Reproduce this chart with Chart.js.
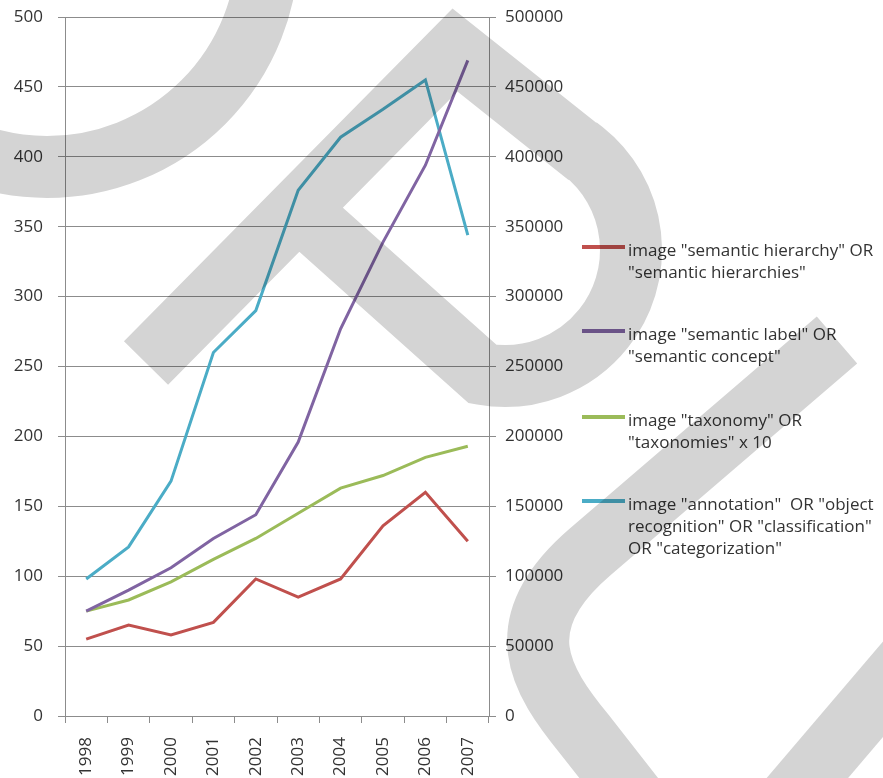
<!DOCTYPE html>
<html lang="en">
<head>
    <meta charset="UTF-8">
    <title>image search hits 1998-2007</title>
    <script src="https://cdn.jsdelivr.net/npm/chart.js@4.4.1/dist/chart.umd.min.js"></script>
    <style>
        *{margin:0; padding:0;}
        body{background:#fff;}
        #wrap{width:883px; height:778px; position:relative;}
    </style>
</head>
<body>
    <div id="wrap">
        <canvas id="lineChart" width="883" height="778"></canvas>
    </div>

    <script>
        const years = ['1998','1999','2000','2001','2002','2003','2004','2005','2006','2007']

        // left axis
        const hierarchy = [55, 65, 58, 67, 98, 85, 98, 136, 160, 125]
        const semLabel  = [75, 90, 106, 127, 144, 196, 277, 339, 394, 469]
        const taxonomy  = [75, 83, 96, 112, 127, 145, 163, 172, 185, 193]
        // right axis
        const annotation = [98000, 121000, 168000, 260000, 290000, 376000, 414000, 434000, 455000, 344000]

        const leftTicks  = [0, 50, 100, 150, 200, 250, 300, 350, 400, 450, 500]
        const rightTicks = [0, 50000, 100000, 150000, 200000, 250000, 300000, 350000, 400000, 450000, 500000]

        const legendText = [
            ['image "semantic hierarchy" OR', '"semantic hierarchies"'],
            ['image "semantic label" OR', '"semantic concept"'],
            ['image "taxonomy" OR', '"taxonomies" x 10'],
            ['image "annotation"  OR "object', 'recognition" OR "classification"', 'OR "categorization"']
        ]

        const colors = ['#c0504d', '#8064a2', '#9bbb59', '#4bacc6']
        const axisGray = '#8c8c8c'
        const tickFont = {family:'Open Sans', size:17}

        function series(i, data, axis){
            return {
                label: legendText[i].join(' '),
                data: data,
                yAxisID: axis,
                borderColor: colors[i],
                backgroundColor: colors[i],
                borderWidth: 3,
                pointRadius: 0,
                tension: 0
            }
        }

        // fixed axis sizes, no extra room for the end labels
        function fixWidth(w){
            return function(scale){
                scale.width = w
                scale.paddingTop = 0
                scale.paddingBottom = 0
            }
        }

        // legend drawn on the right, with wrapped labels
        const sideLegend = {
            id:'sideLegend',
            afterDraw(chart){
                const ctx = chart.ctx
                const rows = [247, 331, 417, 501]
                ctx.save()
                ctx.font = '17px "Open Sans"'
                ctx.textBaseline = 'middle'
                ctx.textAlign = 'left'
                chart.data.datasets.forEach(function(ds, i){
                    const y = rows[i]
                    ctx.strokeStyle = ds.borderColor
                    ctx.lineWidth = 4
                    ctx.beginPath()
                    ctx.moveTo(582, y)
                    ctx.lineTo(625, y)
                    ctx.stroke()
                    ctx.fillStyle = '#333'
                    legendText[i].forEach(function(line, k){
                        ctx.fillText(line, 628, y + 4 + k * 22)
                    })
                })
                ctx.restore()
            }
        }

        // broad grey brush strokes laid over the whole figure
        const brush = {
            id:'brush',
            afterDraw(chart){
                const ctx = chart.ctx
                ctx.save()
                ctx.globalCompositeOperation = 'multiply'
                ctx.strokeStyle = '#d4d4d4'
                ctx.lineWidth = 62
                ctx.lineCap = 'butt'
                ctx.lineJoin = 'miter'

                ctx.beginPath()
                ctx.arc(47, -54, 221, 0, Math.PI)
                ctx.stroke()

                ctx.beginPath()
                ctx.moveTo(146, 363)
                ctx.lineTo(455, 50)
                ctx.lineTo(582, 151)
                ctx.arc(505, 250, 126, -0.9, 1.75)
                ctx.lineTo(299, 210)
                ctx.stroke()

                ctx.beginPath()
                ctx.moveTo(837, 340)
                ctx.lineTo(590, 552)
                ctx.bezierCurveTo(505, 625, 540, 680, 585, 735)
                ctx.lineTo(650, 818)
                ctx.stroke()

                ctx.beginPath()
                ctx.moveTo(925, 640)
                ctx.lineTo(775, 816)
                ctx.stroke()

                ctx.restore()
            }
        }

        const config = {
            type:'line',
            data:{
                labels: years,
                datasets:[
                    series(0, hierarchy, 'y'),
                    series(1, semLabel, 'y'),
                    series(2, taxonomy, 'y'),
                    series(3, annotation, 'y1')
                ]
            },
            options:{
                responsive:false,
                animation:false,
                layout:{padding:{top:17, left:0, right:0, bottom:0}},
                plugins:{
                    legend:{display:false},
                    tooltip:{enabled:false}
                },
                scales:{
                    x:{
                        offset:true,
                        grid:{offset:true, drawOnChartArea:false, drawTicks:true, tickLength:7, color:axisGray},
                        border:{color:axisGray},
                        ticks:{minRotation:90, maxRotation:90, padding:14, font:tickFont, color:'#333'},
                        afterFit(scale){
                            scale.height = 62
                            scale.paddingLeft = 0
                            scale.paddingRight = 0
                        }
                    },
                    y:{
                        position:'left',
                        min:0, max:500,
                        afterBuildTicks(scale){ scale.ticks = leftTicks.map(v => ({value:v})) },
                        grid:{color:axisGray, tickLength:7},
                        border:{color:axisGray},
                        ticks:{padding:15, font:tickFont, color:'#333'},
                        afterFit: fixWidth(65)
                    },
                    y1:{
                        position:'right',
                        min:0, max:500000,
                        afterBuildTicks(scale){ scale.ticks = rightTicks.map(v => ({value:v})) },
                        grid:{drawOnChartArea:false, color:axisGray, tickLength:7},
                        border:{color:axisGray},
                        ticks:{padding:9, font:tickFont, color:'#333', callback:v => String(v)},
                        afterFit: fixWidth(394)
                    }
                }
            },
            plugins:[sideLegend, brush]
        }

        const ctx = document.querySelector('#lineChart').getContext('2d')
        let lineChart = new Chart(ctx, config)
    </script>
</body>
</html>
